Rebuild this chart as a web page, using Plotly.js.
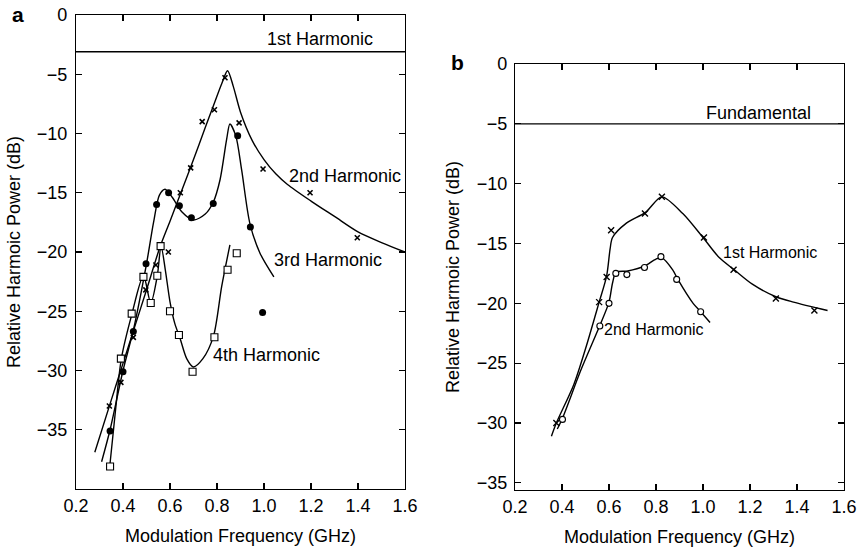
<!DOCTYPE html>
<html>
<head>
<meta charset="utf-8">
<script src="https://cdn.plot.ly/plotly-3.0.1.min.js"></script>
<style>
  html, body { margin: 0; padding: 0; background: #fff; }
  #chart { width: 861px; height: 550px; }
</style>
</head>
<body>
<div id="chart"></div>
<script>
// ---- Panel a: harmonic power vs modulation frequency ----
// measured points
const a2ndX = [0.342, 0.391, 0.444, 0.497, 0.540, 0.593, 0.644, 0.688, 0.737, 0.789, 0.834, 0.894, 0.996, 1.196, 1.397];
const a2ndY = [-33.0, -31.0, -27.2, -23.2, -21.1, -20.0, -15.0, -12.9, -9.0, -8.0, -5.3, -9.1, -13.0, -15.0, -18.8];
const a3rdX = [0.345, 0.400, 0.444, 0.498, 0.543, 0.594, 0.640, 0.691, 0.784, 0.888, 0.942, 0.994];
const a3rdY = [-35.1, -30.1, -26.7, -21.0, -16.0, -15.0, -16.1, -17.1, -15.9, -10.2, -17.9, -25.1];
const a4thX = [0.345, 0.391, 0.437, 0.487, 0.518, 0.546, 0.560, 0.600, 0.638, 0.696, 0.789, 0.845, 0.884];
const a4thY = [-38.1, -29.0, -25.2, -22.1, -24.3, -22.0, -19.5, -25.0, -27.0, -30.1, -27.2, -21.5, -20.1];
// fitted curves
const a2ndFitX = [0.28, 0.35, 0.40, 0.45, 0.50, 0.557, 0.60, 0.65, 0.70, 0.75, 0.784, 0.82, 0.845, 0.869, 0.90, 0.95, 1.00, 1.05, 1.10, 1.20, 1.30, 1.40, 1.50, 1.60];
const a2ndFitY = [-36.9, -32.5, -29.4, -26.3, -23.2, -19.6, -17.4, -14.8, -12.2, -9.5, -7.7, -5.8, -4.7, -6.0, -8.2, -10.6, -12.2, -13.4, -14.3, -15.7, -17.0, -18.3, -19.2, -20.0];
const a3rdFitX = [0.309, 0.345, 0.40, 0.444, 0.50, 0.53, 0.555, 0.579, 0.61, 0.65, 0.70, 0.75, 0.784, 0.813, 0.841, 0.855, 0.88, 0.905, 0.94, 0.983, 1.042];
const a3rdFitY = [-37.7, -35.0, -30.0, -26.6, -21.0, -17.5, -15.2, -14.7, -15.4, -16.6, -17.3, -16.8, -15.8, -13.9, -10.5, -9.2, -10.2, -13.1, -17.6, -20.1, -22.1];
const a4thFitX = [0.342, 0.37, 0.393, 0.437, 0.487, 0.518, 0.546, 0.562, 0.58, 0.60, 0.62, 0.643, 0.671, 0.699, 0.74, 0.785, 0.82, 0.855];
const a4thFitY = [-38.4, -33.0, -29.0, -25.3, -22.0, -24.3, -22.0, -19.5, -21.5, -24.2, -26.0, -27.3, -29.0, -29.7, -29.0, -27.1, -22.9, -19.4];
const a1stLevel = -3.1;

// ---- Panel b ----
const b1stX = [0.376, 0.558, 0.590, 0.609, 0.753, 0.825, 1.004, 1.130, 1.310, 1.474];
const b1stY = [-30.0, -19.9, -17.8, -13.9, -12.5, -11.1, -14.5, -17.2, -19.6, -20.6];
const b2ndX = [0.402, 0.561, 0.600, 0.629, 0.676, 0.751, 0.821, 0.888, 0.990];
const b2ndY = [-29.7, -21.9, -20.0, -17.5, -17.6, -17.0, -16.1, -18.0, -20.7];
const b1stFitX = [0.355, 0.376, 0.45, 0.50, 0.558, 0.59, 0.605, 0.615, 0.674, 0.755, 0.825, 0.914, 1.00, 1.07, 1.133, 1.21, 1.31, 1.385, 1.53];
const b1stFitY = [-31.1, -30.0, -26.8, -23.8, -19.9, -17.7, -15.4, -14.5, -13.3, -12.4, -11.1, -12.5, -14.5, -16.2, -17.2, -18.4, -19.45, -19.9, -20.6];
const b2ndFitX = [0.38, 0.402, 0.48, 0.56, 0.60, 0.615, 0.63, 0.68, 0.75, 0.80, 0.825, 0.871, 0.893, 0.958, 0.990, 1.03];
const b2ndFitY = [-30.5, -29.6, -25.6, -21.9, -19.9, -18.3, -17.4, -17.3, -16.9, -16.3, -16.2, -17.2, -18.0, -20.0, -20.7, -21.6];
const bFundLevel = -5.0;

const freqTicks = [0.2, 0.4, 0.6, 0.8, 1.0, 1.2, 1.4, 1.6];
const dbTicks = [0, -5, -10, -15, -20, -25, -30, -35];

const FONT = 'Liberation Sans, Arial, Helvetica, sans-serif';
const fitLine = {color: 'black', width: 1.4, shape: 'spline', smoothing: 0.8};

function fit(x, y, xa, ya) {
  return {x, y, xaxis: xa, yaxis: ya, type: 'scatter', mode: 'lines', line: fitLine, hoverinfo: 'skip'};
}
function pts(x, y, xa, ya, marker) {
  return {x, y, xaxis: xa, yaxis: ya, type: 'scatter', mode: 'markers', marker};
}

const xMark = {symbol: 'x-thin-open', size: 5, color: 'black', line: {color: 'black', width: 1.6}};
const dotMark = {symbol: 'circle', size: 7, color: 'black'};
const sqMark = {symbol: 'square', size: 7, color: 'white', line: {color: 'black', width: 1.1}};
const xMarkB = {symbol: 'x-thin-open', size: 6, color: 'black', line: {color: 'black', width: 1.4}};
const ringMark = {symbol: 'circle', size: 6, color: 'white', line: {color: 'black', width: 1.1}};

const traces = [
  {x: [0.2, 1.6], y: [a1stLevel, a1stLevel], xaxis: 'x', yaxis: 'y', mode: 'lines', line: {color: 'black', width: 1.4}},
  fit(a2ndFitX, a2ndFitY, 'x', 'y'),
  fit(a3rdFitX, a3rdFitY, 'x', 'y'),
  fit(a4thFitX, a4thFitY, 'x', 'y'),
  pts(a2ndX, a2ndY, 'x', 'y', xMark),
  pts(a3rdX, a3rdY, 'x', 'y', dotMark),
  pts(a4thX, a4thY, 'x', 'y', sqMark),
  {x: [0.2, 1.6], y: [bFundLevel, bFundLevel], xaxis: 'x2', yaxis: 'y2', mode: 'lines', line: {color: 'black', width: 1.4}},
  fit(b1stFitX, b1stFitY, 'x2', 'y2'),
  fit(b2ndFitX, b2ndFitY, 'x2', 'y2'),
  pts(b1stX, b1stY, 'x2', 'y2', xMarkB),
  pts(b2ndX, b2ndY, 'x2', 'y2', ringMark)
];

function freqAxis(domain, anchor) {
  return {
    domain, anchor, range: [0.2, 1.6],
    tickvals: freqTicks, tickformat: '.1f',
    showline: true, linecolor: 'black', linewidth: 1.2, mirror: 'ticks',
    ticks: 'inside', ticklen: 6, tickwidth: 1.2, tickcolor: 'black',
    showgrid: false, zeroline: false,
    tickfont: {size: 18, color: 'black'},
    title: {text: 'Modulation Frequency (GHz)', font: {size: 18, color: 'black'}, standoff: 14}
  };
}
function dbAxis(domain, anchor, range, labelGap, titleGap) {
  return {
    domain, anchor, range,
    tickvals: dbTicks,
    showline: true, linecolor: 'black', linewidth: 1.2, mirror: 'ticks',
    ticks: 'inside', ticklen: 6, tickwidth: 1.2, tickcolor: 'black',
    ticklabelstandoff: labelGap,
    showgrid: false, zeroline: false,
    tickfont: {size: 18, color: 'black'},
    title: {text: 'Relative Harmoic Power (dB)', font: {size: 18, color: 'black'}, standoff: titleGap}
  };
}

const note = (text, x, y, xref, yref, size, extra) => Object.assign({
  text, x, y, xref, yref, showarrow: false, xanchor: 'center', yanchor: 'middle',
  font: {size, color: 'black', family: FONT}
}, extra || {});

const layout = {
  width: 861, height: 550,
  margin: {l: 0, r: 0, t: 0, b: 0},
  paper_bgcolor: 'white', plot_bgcolor: 'white',
  showlegend: false,
  font: {family: FONT, color: 'black'},
  xaxis: freqAxis([76 / 861, 405 / 861], 'y'),
  yaxis: dbAxis([61 / 550, 535 / 550], 'x', [-40, 0], 4, 11),
  xaxis2: freqAxis([515 / 861, 844 / 861], 'y2'),
  yaxis2: dbAxis([60 / 550, 486 / 550], 'x2', [-35.6, 0], 3, 12),
  annotations: [
    note('1st Harmonic', 1.238, -2.0, 'x', 'y', 18),
    note('2nd Harmonic', 1.345, -13.6, 'x', 'y', 18),
    note('3rd Harmonic', 1.273, -20.7, 'x', 'y', 18),
    note('4th Harmonic', 1.011, -28.7, 'x', 'y', 18),
    note('Fundamental', 1.235, -4.1, 'x2', 'y2', 18),
    note('1st Harmonic', 1.286, -15.75, 'x2', 'y2', 16),
    note('2nd Harmonic', 0.793, -22.2, 'x2', 'y2', 16),
    note('<b>a</b>', 18 / 861, 1 - 15 / 550, 'paper', 'paper', 21),
    note('<b>b</b>', 458 / 861, 1 - 63 / 550, 'paper', 'paper', 21)
  ]
};

Plotly.newPlot('chart', traces, layout, {staticPlot: true, displayModeBar: false});
</script>
</body>
</html>
